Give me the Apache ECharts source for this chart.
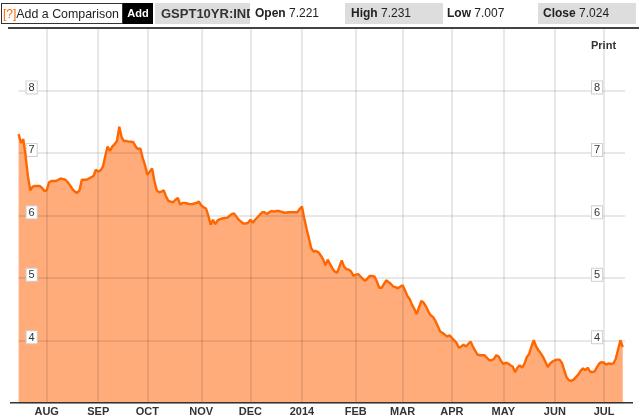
<!DOCTYPE html>
<html>
<head>
<meta charset="utf-8">
<script src="https://cdn.jsdelivr.net/npm/echarts@6/dist/echarts.min.js"></script>
<style>
  html, body { margin: 0; padding: 0; background: #fff; }
  body { width: 639px; height: 418px; position: relative; overflow: hidden; font-family: "Liberation Sans", Arial, Helvetica, sans-serif; }
  #chart { position: absolute; left: 0; top: 0; width: 639px; height: 418px; }
  .hdr { position: absolute; top: 0; left: 0; width: 639px; height: 28px; z-index: 5; }
  .hdr div { position: absolute; top: 3px; height: 21px; line-height: 21px; font-size: 12px; color: #222; white-space: nowrap; overflow: hidden; box-sizing: border-box; }
  .hline { position: absolute; left: 8px; top: 27px; width: 631px; height: 2px; background: #444; z-index: 5; }
  .print { position: absolute; left: 591px; top: 39px; font-size: 11px; font-weight: bold; color: #333; z-index: 5; }
  b { font-weight: bold; }
</style>
</head>
<body>
<div id="chart"></div>
<div class="hdr">
  <div style="left:1px;width:122px;border:1px solid #333;padding-left:1px;font-size:12.4px;"><span style="color:#f60;font-size:12px;">[?]</span>Add a Comparison</div>
  <div style="left:123px;width:30px;background:#000;color:#fff;font-weight:bold;font-size:11px;text-align:center;">Add</div>
  <div style="left:155px;width:95px;background:#ddd;font-weight:bold;font-size:13px;padding-left:6px;color:#333;">GSPT10YR:IND</div>
  <div style="left:255px;width:80px;"><b>Open</b> 7.221</div>
  <div style="left:345px;width:98px;background:#ddd;padding-left:6px;"><b>High</b> 7.231</div>
  <div style="left:447px;width:80px;"><b>Low</b> 7.007</div>
  <div style="left:538px;width:98px;background:#ddd;padding-left:5px;"><b>Close</b> 7.024</div>
</div>
<div class="hline"></div>
<div class="print">Print</div>
<script>
// Weekday categories from 2013-07-16 to 2014-07-14 (last one is empty padding)
const startDate = '2013-07-16';
const endDate = '2014-07-14';
const dates = [];
(function () {
  let d = new Date(startDate + 'T00:00:00Z');
  const e = new Date(endDate + 'T00:00:00Z');
  while (d <= e) {
    const wd = d.getUTCDay();
    if (wd !== 0 && wd !== 6) dates.push(d.toISOString().slice(0, 10));
    d = new Date(d.getTime() + 86400000);
  }
})();

// Month tick labels, indexed by month (January shows the year)
const monthLabels = ['2014', 'FEB', 'MAR', 'APR', 'MAY', 'JUN', 'JUL', 'AUG', 'SEP', 'OCT', 'NOV', 'DEC'];

// Y axis ticks
const yTicks = [3, 4, 5, 6, 7, 8, 9];

// Daily yield values (GSPT10YR:IND), one per weekday
const yields = [
  7.30,7.16,7.22,6.95,6.62,6.40,6.46,6.47,6.47,6.47,
  6.44,6.39,6.40,6.53,6.55,6.55,6.55,6.57,6.59,6.58,
  6.57,6.53,6.48,6.42,6.38,6.36,6.40,6.57,6.57,6.57,
  6.59,6.61,6.63,6.73,6.70,6.72,6.78,6.95,7.10,7.03,
  7.10,7.14,7.19,7.42,7.25,7.19,7.19,7.18,7.18,7.17,
  7.10,7.06,7.07,6.92,6.80,6.65,6.70,6.75,6.55,6.40,
  6.37,6.38,6.40,6.30,6.23,6.22,6.21,6.25,6.28,6.17,
  6.20,6.20,6.19,6.18,6.18,6.19,6.20,6.22,6.16,6.13,
  6.11,6.00,5.85,5.93,5.86,5.92,5.94,5.95,5.96,5.96,
  5.99,6.02,6.03,5.98,5.93,5.90,5.87,5.87,5.88,5.93,
  5.88,5.93,5.97,6.01,6.05,6.05,6.02,6.05,6.07,6.06,
  6.07,6.07,6.06,6.05,6.04,6.05,6.05,6.05,6.05,6.05,
  6.10,6.14,5.95,5.78,5.63,5.47,5.42,5.43,5.41,5.36,
  5.30,5.20,5.29,5.22,5.15,5.10,5.08,5.18,5.28,5.18,
  5.14,5.13,5.10,5.03,5.05,5.06,5.02,4.98,4.95,4.99,
  5.03,5.03,5.02,4.94,4.84,4.84,4.90,4.96,4.93,4.90,
  4.86,4.85,4.83,4.86,4.88,4.80,4.71,4.66,4.57,4.50,
  4.42,4.53,4.63,4.60,4.54,4.46,4.40,4.37,4.31,4.23,
  4.14,4.12,4.09,4.06,4.08,4.04,4.00,3.96,3.88,3.90,
  3.93,3.90,3.94,3.98,3.90,3.83,3.77,3.76,3.76,3.76,
  3.72,3.68,3.68,3.70,3.76,3.74,3.67,3.62,3.64,3.63,
  3.60,3.58,3.49,3.56,3.60,3.56,3.62,3.73,3.78,3.90,
  4.00,3.90,3.84,3.79,3.73,3.65,3.57,3.63,3.66,3.68,
  3.69,3.69,3.64,3.52,3.41,3.36,3.35,3.37,3.41,3.45,
  3.51,3.55,3.52,3.56,3.50,3.49,3.50,3.57,3.63,3.65,
  3.64,3.61,3.63,3.62,3.63,3.70,3.85,4.00,3.89
];

function isMonthStart(i) {
  if (i === 0) return false;
  return dates[i].slice(5, 7) !== dates[i - 1].slice(5, 7);
}

const chart = echarts.init(document.getElementById('chart'), null, { renderer: 'canvas' });

const labelBox = {
  inside: true,
  showMinLabel: false,
  showMaxLabel: false,
  color: '#333',
  fontSize: 11,
  fontFamily: 'Liberation Sans, Arial, sans-serif',
  formatter: v => '{b|' + v + '}',
  padding: [0, 0, 6, 0],
  rich: {
    b: {
      backgroundColor: '#fff',
      borderColor: '#d0d0d0',
      borderWidth: 1,
      padding: [1, 2, 0, 2],
      fontSize: 11,
      lineHeight: 11,
      color: '#333'
    }
  }
};

const splitStyle = { show: true, lineStyle: { color: 'rgba(0,0,0,0.12)', width: 1.5 } };

chart.setOption({
  animation: false,
  grid: { left: 18.6, right: 13.9, top: 28, bottom: 15.3, containLabel: false },
  xAxis: {
    type: 'category',
    data: dates,
    boundaryGap: false,
    z: 3,
    axisLine: { show: false },
    axisTick: { show: false },
    axisLabel: {
      interval: (i) => isMonthStart(i),
      formatter: (val) => monthLabels[parseInt(val.slice(5, 7), 10) - 1],
      color: '#333',
      fontWeight: 'bold',
      fontSize: 11,
      margin: 4,
      fontFamily: 'Liberation Sans, Arial, sans-serif'
    },
    splitLine: { show: true, interval: (i) => isMonthStart(i), lineStyle: { color: 'rgba(0,0,0,0.09)', width: 2 } }
  },
  yAxis: [
    {
      type: 'value', min: yTicks[0], max: yTicks[yTicks.length - 1], interval: 1, z: 3,
      axisLine: { show: false }, axisTick: { show: false },
      axisLabel: Object.assign({}, labelBox, { margin: 8 }),
      splitLine: splitStyle
    },
    {
      type: 'value', position: 'right', min: yTicks[0], max: yTicks[yTicks.length - 1], interval: 1, z: 3,
      axisLine: { show: false }, axisTick: { show: false },
      axisLabel: Object.assign({}, labelBox, { margin: 23 }),
      splitLine: { show: false }
    }
  ],
  graphic: [
    { type: 'line', z: 10, shape: { x1: 10, y1: 402.7, x2: 633, y2: 402.7 }, style: { stroke: '#333', lineWidth: 1.5 } }
  ],
  series: [
    {
      type: 'line', data: yields, z: 1, showSymbol: false, silent: true,
      lineStyle: { width: 0, opacity: 0 },
      areaStyle: { color: '#ffac7a', opacity: 1, origin: 'start' }
    },
    {
      type: 'line', data: yields, z: 5, showSymbol: false, silent: true,
      lineStyle: { color: '#ff6600', width: 2.4 }
    }
  ]
});
</script>
</body>
</html>
